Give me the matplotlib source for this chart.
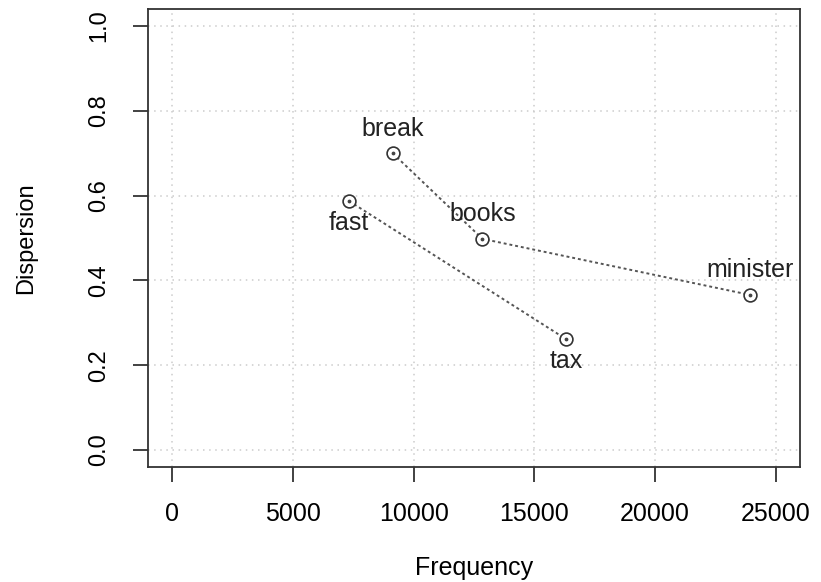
import matplotlib
matplotlib.use("Agg")
import matplotlib.pyplot as plt

plt.rcParams['font.family'] = ['Liberation Sans', 'DejaVu Sans']

words = ["break", "books", "minister", "fast", "tax"]
freq = [9130, 12850, 23920, 7330, 16300]
disp = [0.700, 0.498, 0.366, 0.587, 0.262]
label_side = ["above", "above", "above", "below", "below"]
path1 = ["break", "books", "minister"]
path2 = ["fast", "tax"]
xticks = [0, 5000, 10000, 15000, 20000, 25000]
yticks = [0.0, 0.2, 0.4, 0.6, 0.8, 1.0]

fig = plt.figure(figsize=(8.21, 5.82), dpi=100)
ax = fig.add_axes([148/821, 115/582, 652/821, 458/582])
ax.set_xlim(-1000, 26000)
ax.set_ylim(-0.04, 1.04)

for x in xticks:
    ax.axvline(x, color='#cccccc', ls=(0, (1, 3)), lw=1.1, zorder=0)
for y in yticks:
    ax.axhline(y, color='#cccccc', ls=(0, (1, 3)), lw=1.1, zorder=0)

idx = {w: i for i, w in enumerate(words)}
for path in (path1, path2):
    xs = [freq[idx[w]] for w in path]
    ys = [disp[idx[w]] for w in path]
    ax.plot(xs, ys, color='#555555', ls=(0, (1.5, 1.5)), lw=1.4, zorder=2)

ax.scatter(freq, disp, s=85, facecolors='white', edgecolors='#333333', linewidths=1.2, zorder=3)
ax.scatter(freq, disp, s=3, color='#444444', zorder=4)

for w, x, y, side in zip(words, freq, disp, label_side):
    if side == "above":
        ax.annotate(w, (x, y), xytext=(0, 9), textcoords='offset points',
                    ha='center', va='bottom', fontsize=18, color='#222222')
    else:
        ax.annotate(w, (x, y), xytext=(0, -7), textcoords='offset points',
                    ha='center', va='top', fontsize=18, color='#222222')

ax.set_xticks(xticks)
ax.set_xticklabels([str(t) for t in xticks], fontsize=18)
ax.set_yticks(yticks)
ax.set_yticklabels([f"{t:.1f}" for t in yticks], fontsize=17, rotation=90, va='center')
ax.tick_params(direction='out', length=11, width=1.3, color='#333333')
ax.tick_params(axis='x', pad=14)
ax.tick_params(axis='y', pad=16)
for s in ax.spines.values():
    s.set_linewidth(1.3)
    s.set_color('#333333')
ax.set_xlabel("Frequency", fontsize=18, labelpad=22)
ax.set_ylabel("Dispersion", fontsize=17, labelpad=37)

fig.savefig("out.png", dpi=100)
